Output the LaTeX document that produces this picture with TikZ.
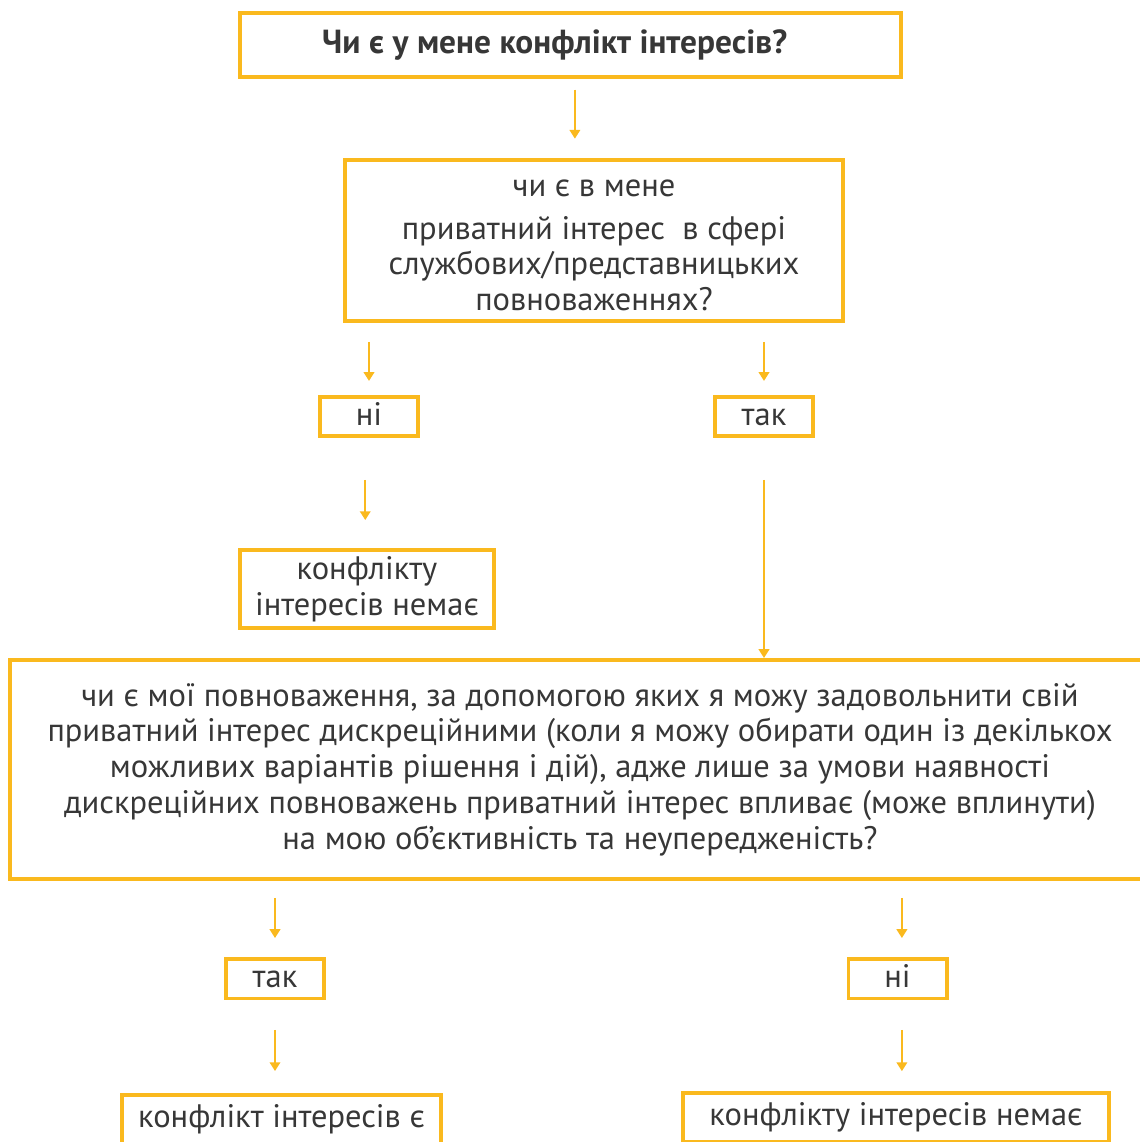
\documentclass[tikz,border=0pt]{standalone}
\usepackage{fontspec}
\setmainfont{PT Sans}
\usepackage{tikz}
\usetikzlibrary{arrows.meta,positioning}
\usepackage{xcolor}
\definecolor{coiyellow}{RGB}{250,185,30}
\definecolor{coigray}{RGB}{55,55,55}
\tikzstyle{arrow} = [line width=1.1pt,-{Triangle[width=6pt,length=5pt]},color=coiyellow]
\tikzstyle{qbox} = [rectangle, draw=coiyellow, line width=2pt, align=center, text=coigray, inner sep=0pt]
\tikzstyle{answer} = [qbox, minimum width=1.97cm, minimum height=0.79cm, text height=1em, text depth=0pt]

\begin{document}
\begin{tikzpicture}[x=0.02cm, y=-0.02cm, font=\fontsize{18.5}{20.4}\selectfont]
\useasboundingbox (0,0) rectangle (1139,1142);

% Main question
\node (q1) [qbox, minimum width=13.23cm, minimum height=1.29cm] at (570.5,45) {\fontsize{19}{22}\selectfont\textbf{Чи є у мене конфлікт інтересів?}\hspace*{18pt}};

% Private interest
\node (q2) [qbox, minimum width=9.97cm, minimum height=3.23cm] at (594,240.5) {\rule{0pt}{15pt}чи є в мене\\[4pt]
приватний інтерес \ в сфері\\ службових/представницьких\\ повноваженнях?};

% First answers
\node (no1) [answer] at (369,416.5) {ні};
\node (yes1) [answer] at (764,416.5) {так};
\node (none1) [qbox, minimum width=5.09cm, minimum height=1.57cm] at (367,589) {конфлікту\\ інтересів немає};

% Discretionary powers
\node (q3) [qbox, minimum width=22.8cm, minimum height=4.39cm] at (580,769.5) {чи є мої повноваження, за допомогою яких я можу задовольнити свій\\
приватний інтерес дискреційними (коли я можу обирати один із декількох\\
можливих варіантів рішення і дій), адже лише за умови наявності\\
дискреційних повноважень приватний інтерес впливає (може вплинути)\\
на мою об’єктивність та неупередженість?};

% Second answers
\node (yes2) [answer] at (275,978.5) {так};
\node (no2) [answer] at (897.5,978.5) {ні};
\node (res1) [qbox, minimum width=6.39cm, minimum height=0.97cm] at (281.5,1119) {конфлікт інтересів є};
\node (res2) [qbox, minimum width=8.53cm, minimum height=0.97cm] at (896,1117) {конфлікту інтересів немає};

% Connections
\draw[arrow, shorten <=6pt, shorten >=11pt] ([xshift=2.5]q1.south) -- ([xshift=2.5]q1.south |- q2.north);
\draw[arrow, shorten <=10.8pt, shorten >=8pt] (no1 |- q2.south) -- (no1.north);
\draw[arrow, shorten <=10.8pt, shorten >=8pt] (yes1 |- q2.south) -- (yes1.north);
\draw[arrow, shorten <=23.8pt, shorten >=15.9pt] ([xshift=-1]none1.north |- no1.south) -- ([xshift=-1]none1.north);
\draw[arrow, shorten <=23.8pt] (yes1.south) -- (yes1.south |- q3.north);
\draw[arrow, shorten <=9.6pt, shorten >=10.8pt] (yes2 |- q3.south) -- (yes2.north);
\draw[arrow, shorten <=9.6pt, shorten >=10.8pt] ([xshift=2.5]no2.north |- q3.south) -- ([xshift=2.5]no2.north);
\draw[arrow, shorten <=17pt, shorten >=12.5pt] (yes2.south) -- (yes2.south |- res1.north);
\draw[arrow, shorten <=17pt, shorten >=11.3pt] ([xshift=2.5]no2.south) -- ([xshift=2.5]no2.south |- res2.north);
\end{tikzpicture}
\end{document}
